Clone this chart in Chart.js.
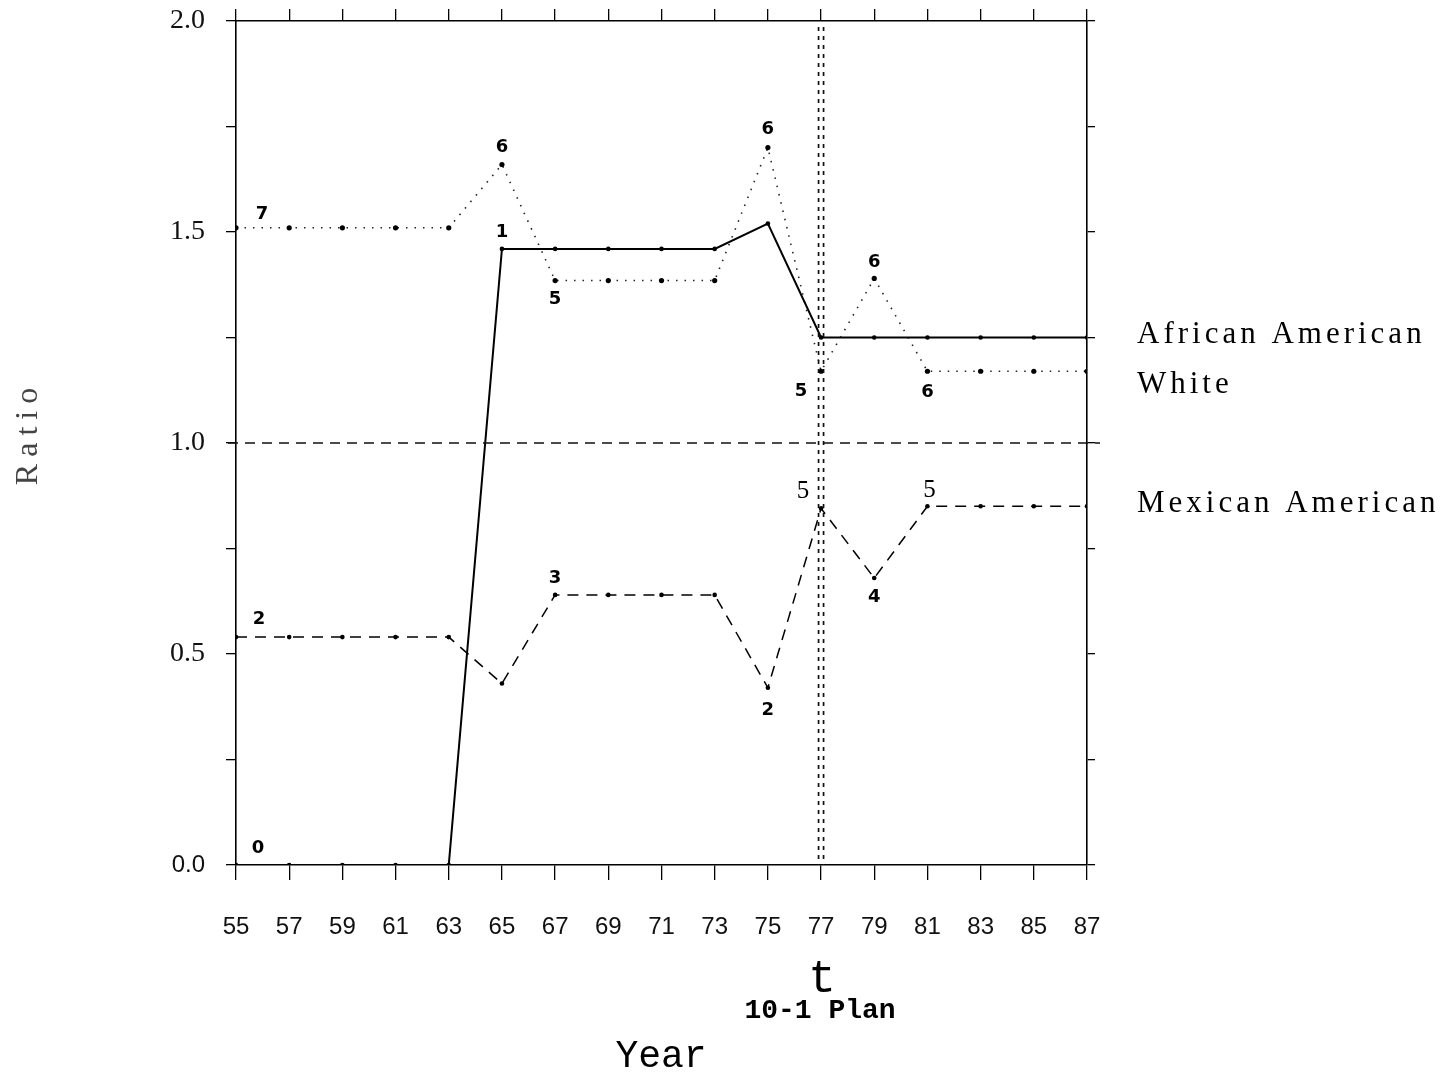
<!DOCTYPE html>
<html><head><meta charset="utf-8">
<script src="https://cdn.jsdelivr.net/npm/chart.js@4/dist/chart.umd.min.js"></script>
<style>html,body{margin:0;padding:0;background:#fff;} canvas{display:block;}</style>
</head><body>
<canvas id="c" width="1455" height="1073"></canvas>
<script>
// ---------------- data ----------------
const years = [55,57,59,61,63,65,67,69,71,73,75,77,79,81,83,85,87];
const africanAmerican = [0,0,0,0,0,1.46,1.46,1.46,1.46,1.46,1.52,1.25,1.25,1.25,1.25,1.25,1.25];
const white = [1.51,1.51,1.51,1.51,1.51,1.66,1.385,1.385,1.385,1.385,1.70,1.17,1.39,1.17,1.17,1.17,1.17];
const mexicanAmerican = [0.54,0.54,0.54,0.54,0.54,0.43,0.64,0.64,0.64,0.64,0.42,0.845,0.68,0.85,0.85,0.85,0.85];
const africanMarks = ['0','','','','','1','','','','','','','','','','',''];
const whiteMarks = ['7','','','','','6','5','','','','6','5','6','6','','',''];
const mexicanMarks = ['2','','','','','','3','','','','2','5','4','5','','',''];
const seriesNames = ['African American','White','Mexican American'];
const yTickValues = [0,0.25,0.5,0.75,1,1.25,1.5,1.75,2];
const yTickLabels = ['0.0','','0.5','','1.0','','1.5','','2.0'];
const parityRatio = 1.0;
const planYear = 77;
const planMarker = 't';
const planLabel = '10-1 Plan';
const xTitle = 'Year';
const yTitle = 'Ratio';

// ---------------- styling / placement (not data) ----------------
const markOffsets = [
  {0:[22,-17],5:[0,-17]},
  {0:[26,-13],5:[0,-17],6:[0,19],10:[0,-18],11:[-20,20],12:[0,-16],13:[0,21]},
  {0:[23,-18],6:[0,-17],10:[0,23],11:[-18,-17],12:[0,19],13:[2,-16]}
];
const serifMarks = {2:{11:true,13:true}};
const legendOffsets = [5, 22, 6];

const seriesValues = [africanAmerican, white, mexicanAmerican];
const seriesMarks = [africanMarks, whiteMarks, mexicanMarks];

const decorations = {
  id: 'decorations',
  afterDatasetsDraw(chart) {
    const ctx = chart.ctx;
    const xs = chart.scales.x, ys = chart.scales.y;
    const {left, right, top, bottom} = chart.chartArea;
    ctx.save();
    // parity reference line
    const yp = ys.getPixelForValue(parityRatio);
    ctx.strokeStyle = '#111'; ctx.lineWidth = 1.3; ctx.setLineDash([10,7]);
    ctx.beginPath(); ctx.moveTo(left - 8, yp); ctx.lineTo(right + 13, yp); ctx.stroke();
    // plan year double dotted line
    const xp = xs.getPixelForValue(planYear);
    ctx.setLineDash([4,5]); ctx.lineWidth = 1.7; ctx.strokeStyle = '#111';
    for (const dx of [-2.5, 2.5]) {
      ctx.beginPath(); ctx.moveTo(xp + dx, top + 6); ctx.lineTo(xp + dx, bottom); ctx.stroke();
    }
    ctx.setLineDash([]);
    // point marks
    ctx.fillStyle = '#000'; ctx.textAlign = 'center'; ctx.textBaseline = 'middle';
    seriesMarks.forEach((marks, si) => {
      marks.forEach((m, i) => {
        if (!m) return;
        const off = markOffsets[si][i] || [0,-17];
        const px = xs.getPixelForValue(years[i]) + off[0];
        const py = ys.getPixelForValue(seriesValues[si][i]) + off[1];
        const serif = serifMarks[si] && serifMarks[si][i];
        ctx.font = serif ? '25px "Liberation Serif"' : 'bold 18px "DejaVu Sans"';
        ctx.fillText(m, px, py);
      });
    });
    // series names on the right
    ctx.textAlign = 'left'; ctx.textBaseline = 'alphabetic';
    ctx.font = '31px "Liberation Serif"';
    ctx.letterSpacing = '4px';
    seriesNames.forEach((n, si) => {
      const v = seriesValues[si][seriesValues[si].length - 1];
      ctx.fillText(n, right + 50, ys.getPixelForValue(v) + legendOffsets[si]);
    });
    ctx.letterSpacing = '0px';
    // plan marker and label
    ctx.textAlign = 'center';
    ctx.font = '46px "Liberation Mono"';
    ctx.fillText(planMarker, xp + 1, 992);
    ctx.font = 'bold 28px "Liberation Mono"';
    ctx.fillText(planLabel, xp - 1, 1018);
    // axis titles
    ctx.font = '38px "Liberation Mono"';
    ctx.fillText(xTitle, 661, 1067);
    ctx.save();
    ctx.translate(37, 433); ctx.rotate(-Math.PI/2);
    ctx.font = '32px "Liberation Serif"'; ctx.fillStyle = '#444';
    ctx.letterSpacing = '7px';
    ctx.fillText(yTitle, 0, 0);
    ctx.restore();
    ctx.restore();
  }
};

const ds = (vals) => years.map((x, i) => ({x, y: vals[i]}));

new Chart(document.getElementById('c'), {
  type: 'line',
  data: {
    datasets: [
      { label: seriesNames[0], data: ds(africanAmerican), borderColor: '#000', borderWidth: 2,
        pointRadius: 2.3, pointBackgroundColor: '#000', pointBorderWidth: 0, tension: 0 },
      { label: seriesNames[1], data: ds(white), borderColor: '#222', borderWidth: 1.6, borderDash: [1.5,7],
        pointRadius: 2.6, pointBackgroundColor: '#000', pointBorderWidth: 0, tension: 0 },
      { label: seriesNames[2], data: ds(mexicanAmerican), borderColor: '#000', borderWidth: 1.5, borderDash: [11,8],
        pointRadius: 2.3, pointBackgroundColor: '#000', pointBorderWidth: 0, tension: 0 }
    ]
  },
  options: {
    responsive: false, animation: false, devicePixelRatio: 1,
    layout: { padding: 0 },
    plugins: { legend: { display: false }, tooltip: { enabled: false } },
    scales: {
      x: { type: 'linear', position: 'bottom', min: 55, max: 87,
        afterBuildTicks: s => { s.ticks = years.map(v => ({value: v})); },
        ticks: { callback: v => String(v), font: {family: 'Liberation Sans', size: 24}, color: '#111', padding: 33, maxRotation: 0, autoSkip: false },
        grid: { drawOnChartArea: false, drawTicks: true, tickLength: 15, color: '#000', lineWidth: 1.3 },
        border: { display: true, color: '#000', width: 1.6 },
        afterFit: s => { s.height = 208; s.paddingLeft = 0; s.paddingRight = 0; } },
      xTop: { type: 'linear', position: 'top', min: 55, max: 87,
        afterBuildTicks: s => { s.ticks = years.map(v => ({value: v})); },
        ticks: { display: false },
        grid: { drawOnChartArea: false, drawTicks: true, tickLength: 12, color: '#000', lineWidth: 1.3 },
        border: { display: true, color: '#000', width: 1.6 },
        afterFit: s => { s.height = 21; s.paddingLeft = 0; s.paddingRight = 0; } },
      y: { type: 'linear', position: 'left', min: 0, max: 2,
        afterBuildTicks: s => { s.ticks = yTickValues.map(v => ({value: v})); },
        ticks: { callback: (v, i) => yTickLabels[i], color: '#111', padding: 21, autoSkip: false,
          font: c => (c.tick && c.tick.value === 0) ? {family: 'Liberation Sans', size: 24} : {family: 'Liberation Serif', size: 28} },
        grid: { drawOnChartArea: false, drawTicks: true, tickLength: 10, color: '#000', lineWidth: 1.3 },
        border: { display: true, color: '#000', width: 1.6 },
        afterFit: s => { s.width = 236; s.paddingTop = 0; s.paddingBottom = 0; } },
      yRight: { type: 'linear', position: 'right', min: 0, max: 2,
        afterBuildTicks: s => { s.ticks = yTickValues.map(v => ({value: v})); },
        ticks: { display: false },
        grid: { drawOnChartArea: false, drawTicks: true, tickLength: 8, color: '#000', lineWidth: 1.3 },
        border: { display: true, color: '#000', width: 1.6 },
        afterFit: s => { s.width = 368; s.paddingTop = 0; s.paddingBottom = 0; } }
    }
  },
  plugins: [decorations]
});
</script>
</body></html>
